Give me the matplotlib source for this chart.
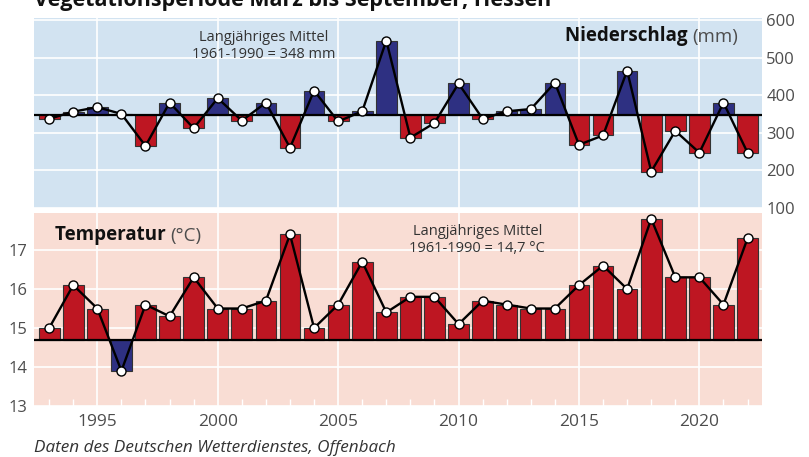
import matplotlib
matplotlib.use("Agg")
import matplotlib.pyplot as plt
import numpy as np

plt.rcParams['font.family'] = ['Open Sans', 'DejaVu Sans']

# Jahre der Vegetationsperiode
years = np.arange(1993, 2023)

# Niederschlag März-September (mm)
niederschlag = [337, 356, 368, 350, 265, 380, 312, 392, 332, 380,
                260, 412, 330, 357, 545, 287, 326, 431, 337, 357,
                363, 433, 268, 293, 465, 197, 305, 247, 380, 247]

# Mitteltemperatur März-September (°C)
temperatur = [15.0, 16.1, 15.5, 13.9, 15.6, 15.3, 16.3, 15.5, 15.5, 15.7,
              17.4, 15.0, 15.6, 16.7, 15.4, 15.8, 15.8, 15.1, 15.7, 15.6,
              15.5, 15.5, 16.1, 16.6, 16.0, 17.8, 16.3, 16.3, 15.6, 17.3]

mittel_ns = 348
mittel_t = 14.7

ROT = '#be1622'
BLAU = '#2e3082'
GRAU = '#4d4d4d'

fig = plt.figure(figsize=(8.09, 4.57), dpi=100)
W, H = 809, 457
ax1 = fig.add_axes([34 / W, 1 - 208 / H, 728 / W, 190 / H])
ax2 = fig.add_axes([34 / W, 1 - 406 / H, 728 / W, 193 / H])

fig.text(34 / W, 1 - 6 / H, "Vegetationsperiode März bis September, Hessen",
         fontsize=15.5, fontweight='bold', ha='left', va='baseline', color='#111111')


def panel(ax, werte, mittel, hoch_farbe, tief_farbe, bg):
    ax.set_facecolor(bg)
    werte = np.array(werte)
    farben = [hoch_farbe if w >= mittel else tief_farbe for w in werte]
    ax.bar(years, werte - mittel, bottom=mittel, width=0.86, color=farben,
           edgecolor='#333333', linewidth=0.8, zorder=2)
    ax.axhline(mittel, color='black', linewidth=1.6, zorder=3)
    ax.plot(years, werte, color='black', linewidth=1.7, zorder=4,
            marker='o', markersize=6.5, markerfacecolor='white',
            markeredgecolor='black', markeredgewidth=1.0)
    ax.set_xlim(1992.37, 2022.6)
    ax.set_xticks([1995, 2000, 2005, 2010, 2015, 2020])
    ax.grid(True, color='white', linewidth=1.2, zorder=0)
    ax.set_axisbelow(True)
    for s in ax.spines.values():
        s.set_visible(False)


# Niederschlag oben, Achse rechts
panel(ax1, niederschlag, mittel_ns, BLAU, ROT, '#d2e3f1')
ax1.set_ylim(105, 605)
ax1.set_yticks([100, 200, 300, 400, 500, 600])
ax1.yaxis.tick_right()
ax1.tick_params(axis='y', length=0, pad=3, labelsize=12, labelcolor=GRAU)
ax1.tick_params(axis='x', length=0, labelbottom=False)
for lab in ax1.get_yticklabels():
    lab.set_clip_on(False)

t_mm = ax1.text(0.967, 0.90, "(mm)", transform=ax1.transAxes, fontsize=13.5,
                ha='right', va='center', color=GRAU)
ax1.annotate("Niederschlag ", xy=(0, 0), xycoords=t_mm, fontsize=13.5,
             fontweight='bold', ha='right', va='bottom', color='#111111')
ax1.text(0.316, 0.853, "Langjähriges Mittel\n1961-1990 = 348 mm",
         transform=ax1.transAxes, fontsize=10.5, ha='center', va='center',
         color='#333333', linespacing=1.15)

# Temperatur unten, Achse links
panel(ax2, temperatur, mittel_t, ROT, BLAU, '#f9ddd4')
ax2.set_ylim(13, 17.95)
ax2.set_yticks([13, 14, 15, 16, 17])
ax2.tick_params(axis='y', length=0, pad=5, labelsize=12, labelcolor=GRAU)
ax2.tick_params(axis='x', length=0, pad=6, labelsize=12.5, labelcolor=GRAU)
ax2.set_xticks(years, minor=True)
ax2.tick_params(axis='x', which='minor', direction='in', length=5,
                width=1.0, color='white')

t_t = ax2.text(0.029, 0.886, "Temperatur ", transform=ax2.transAxes,
               fontsize=13.5, fontweight='bold', ha='left', va='center',
               color='#111111')
ax2.annotate("(°C)", xy=(1, 0), xycoords=t_t, fontsize=13.5,
             ha='left', va='bottom', color=GRAU)
ax2.text(0.609, 0.86, "Langjähriges Mittel\n1961-1990 = 14,7 °C",
         transform=ax2.transAxes, fontsize=10.5, ha='center', va='center',
         color='#333333', linespacing=1.15)

fig.text(34 / W, 1 - 448 / H, "Daten des Deutschen Wetterdienstes, Offenbach",
         fontsize=12.3, fontstyle='italic', ha='left', va='center', color='#333333')

fig.savefig("out.png", dpi=100)
